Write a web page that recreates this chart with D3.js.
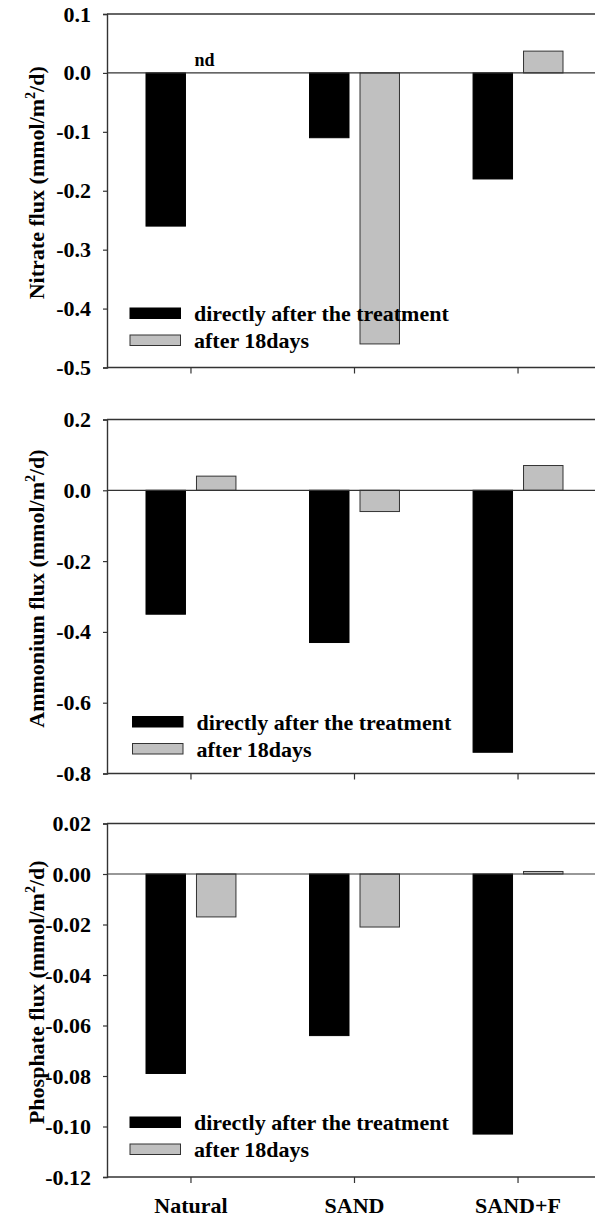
<!DOCTYPE html>
<html>
<head>
<meta charset="utf-8">
<script src="https://cdn.jsdelivr.net/npm/d3@7"></script>
<style>
  html, body { margin: 0; padding: 0; background: #fff; }
  svg { display: block; }
  text { font-family: "Liberation Serif", "Times New Roman", serif; font-weight: bold; fill: #000; }
</style>
</head>
<body>
<div id="chart"></div>
<script>
// Treatments along the x axis
const categories = ["Natural", "SAND", "SAND+F"];
// Sampling occasions (legend entries)
const seriesNames = ["directly after the treatment", "after 18days"];

// Nitrate flux, mmol/m2/d (null = not determined)
const nitrateDirect = [-0.26, -0.11, -0.18];
const nitrateAfter  = [null, -0.46, 0.037];
const nitrateTicks  = [0.1, 0.0, -0.1, -0.2, -0.3, -0.4, -0.5];

// Ammonium flux, mmol/m2/d
const ammoniumDirect = [-0.35, -0.43, -0.74];
const ammoniumAfter  = [0.04, -0.06, 0.07];
const ammoniumTicks  = [0.2, 0.0, -0.2, -0.4, -0.6, -0.8];

// Phosphate flux, mmol/m2/d
const phosphateDirect = [-0.079, -0.064, -0.103];
const phosphateAfter  = [-0.017, -0.021, 0.001];
const phosphateTicks  = [0.02, 0.00, -0.02, -0.04, -0.06, -0.08, -0.10, -0.12];

const W = 595, H = 1220;
const left = 107, right = 602;
const FONT = 22;
const AXIS = "#333";

const panels = [
  { title: "Nitrate flux", direct: nitrateDirect, after: nitrateAfter, ticks: nitrateTicks, dec: 1,
    top: 14, bottom: 367.5, legX: 130, legDy: -59.5 },
  { title: "Ammonium flux", direct: ammoniumDirect, after: ammoniumAfter, ticks: ammoniumTicks, dec: 1,
    top: 419.5, bottom: 773.5, legX: 132.5, legDy: -57 },
  { title: "Phosphate flux", direct: phosphateDirect, after: phosphateAfter, ticks: phosphateTicks, dec: 2,
    top: 823.5, bottom: 1177, legX: 130, legDy: -60 }
];

const svg = d3.select("#chart").append("svg")
  .attr("width", W).attr("height", H);

// Bar groups (one per treatment) and the two bars inside each group
const xGroup = d3.scaleBand().domain(categories).range([left, right])
  .paddingInner(0.45).paddingOuter(0.2385);
const xSeries = d3.scaleBand().domain(seriesNames).range([0, xGroup.bandwidth()])
  .paddingInner(0.218).paddingOuter(0);

const fills = ["#000", "#c0c0c0"];
const strokes = ["#000", "#333"];

panels.forEach((p, pi) => {
  const y = d3.scaleLinear()
    .domain([d3.min(p.ticks), d3.max(p.ticks)])
    .range([p.bottom, p.top]);
  const g = svg.append("g");

  // Bars
  const rows = categories.map((c, i) => ({ cat: c, values: [p.direct[i], p.after[i]] }));
  const grp = g.selectAll("g.grp").data(rows).join("g")
    .attr("class", "grp")
    .attr("transform", d => `translate(${xGroup(d.cat)},0)`);
  grp.selectAll("rect")
    .data(d => d.values.map((v, k) => ({ key: seriesNames[k], k, v })).filter(d => d.v !== null))
    .join("rect")
    .attr("x", d => xSeries(d.key))
    .attr("width", xSeries.bandwidth())
    .attr("y", d => y(Math.max(0, d.v)))
    .attr("height", d => Math.abs(y(d.v) - y(0)))
    .attr("fill", d => fills[d.k])
    .attr("stroke", d => strokes[d.k])
    .attr("stroke-width", 1);

  // "nd" marker for missing values
  rows.forEach(r => {
    r.values.forEach((v, k) => {
      if (v === null) {
        g.append("text")
          .attr("x", xGroup(r.cat) + xSeries(seriesNames[k]) + 8)
          .attr("y", y(0) - 7)
          .attr("text-anchor", "middle")
          .attr("font-size", 18)
          .text("nd");
      }
    });
  });

  // Zero line and top frame line
  g.append("line").attr("x1", left).attr("x2", W).attr("y1", y(0)).attr("y2", y(0))
    .attr("stroke", AXIS).attr("stroke-width", 1.2);
  g.append("line").attr("x1", left).attr("x2", W).attr("y1", p.top).attr("y2", p.top)
    .attr("stroke", AXIS).attr("stroke-width", 1.4);

  // Y axis
  const yAxis = d3.axisLeft(y).tickValues(p.ticks)
    .tickFormat(d => d.toFixed(p.dec))
    .tickSize(4).tickPadding(12);
  const ya = g.append("g").attr("transform", `translate(${left},0)`).call(yAxis);
  ya.select(".domain").attr("stroke", AXIS).attr("stroke-width", 1.4);
  ya.selectAll(".tick line").attr("stroke", AXIS).attr("stroke-width", 1.2);
  ya.selectAll(".tick text").attr("font-size", FONT)
    .attr("font-family", "Liberation Serif").attr("font-weight", "bold").attr("fill", "#000");

  // X axis: ticks at the centre of each bar group
  const xAxis = d3.axisBottom(xGroup).tickSize(6).tickPadding(14)
    .tickFormat(pi === panels.length - 1 ? (d => d) : (() => ""));
  const xa = g.append("g").attr("transform", `translate(0,${p.bottom})`).call(xAxis);
  xa.select(".domain").attr("d", `M${left},0H${W}`).attr("stroke", AXIS).attr("stroke-width", 1.4);
  xa.selectAll(".tick line").attr("stroke", AXIS).attr("stroke-width", 1.2);
  xa.selectAll(".tick text").attr("font-size", FONT)
    .attr("font-family", "Liberation Serif").attr("font-weight", "bold").attr("fill", "#000");

  // Y axis title
  const cy = (p.top + p.bottom) / 2 - 8;
  const t = g.append("text")
    .attr("transform", `translate(44,${cy}) rotate(-90)`)
    .attr("text-anchor", "middle")
    .attr("font-size", FONT);
  t.append("tspan").text(p.title + " (mmol/m");
  t.append("tspan").attr("dy", -9).attr("font-size", 14).text("2");
  t.append("tspan").attr("dy", 9).text("/d)");

  // Legend
  const leg = g.append("g").attr("transform", `translate(${p.legX},${p.bottom + p.legDy})`);
  seriesNames.forEach((s, k) => {
    const off = k * 27;
    leg.append("rect").attr("x", 0).attr("y", off).attr("width", 50.5).attr("height", 10.5)
      .attr("fill", fills[k]).attr("stroke", strokes[k]).attr("stroke-width", 1);
    leg.append("text").attr("x", 64).attr("y", off + 13).attr("font-size", FONT).text(s);
  });
});
</script>
</body>
</html>
